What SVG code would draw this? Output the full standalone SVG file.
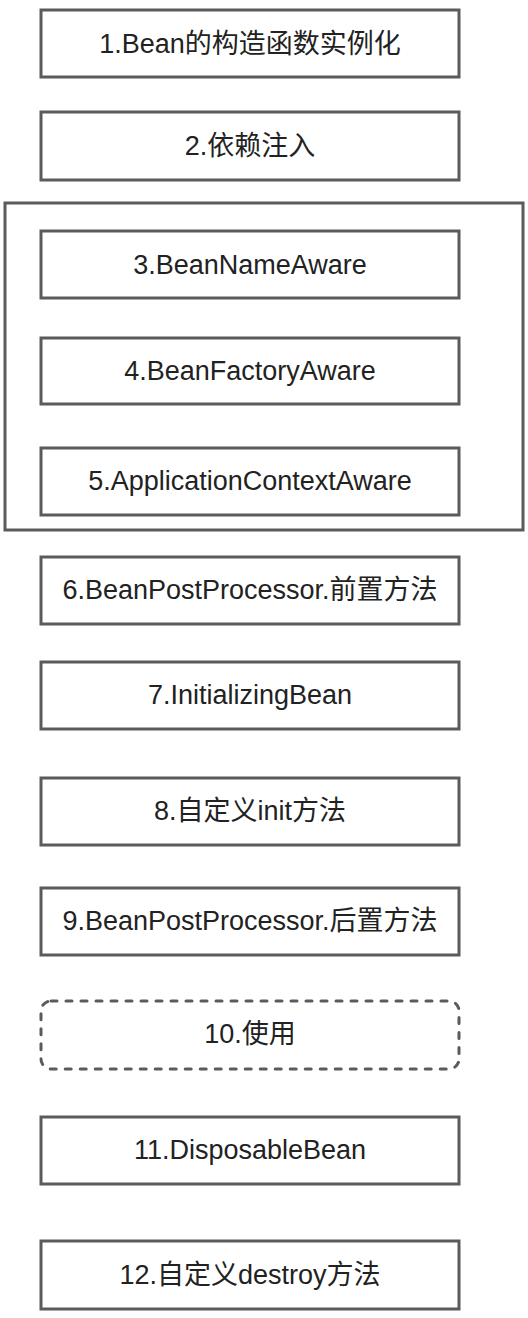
<svg xmlns="http://www.w3.org/2000/svg" width="528" height="1318" viewBox="0 0 528 1318">
<style>
.b{fill:#fff;stroke:#5b5b5b;stroke-width:3}
.d{fill:#fff;stroke:#5b5b5b;stroke-width:3;stroke-dasharray:6 9;stroke-linecap:round}
.t{font-family:"Liberation Sans","Noto Sans CJK SC",sans-serif;font-size:27px;fill:#222;text-anchor:middle}
</style>
<rect width="528" height="1318" fill="#fff"/>
<g id="group-aware"><rect x="5" y="203" width="518" height="327" fill="none" stroke="#5b5b5b" stroke-width="3"/></g>
<g id="n1"><rect class="b" x="41" y="10" width="418" height="67"/><text class="t" x="250" y="53">1.Bean的构造函数实例化</text></g>
<g id="n2"><rect class="b" x="41" y="112" width="418" height="68"/><text class="t" x="250" y="155">2.依赖注入</text></g>
<g id="n3"><rect class="b" x="41" y="231" width="418" height="67"/><text class="t" x="250" y="274">3.BeanNameAware</text></g>
<g id="n4"><rect class="b" x="41" y="338" width="418" height="66"/><text class="t" x="250" y="380">4.BeanFactoryAware</text></g>
<g id="n5"><rect class="b" x="41" y="448" width="418" height="67"/><text class="t" x="250" y="490">5.ApplicationContextAware</text></g>
<g id="n6"><rect class="b" x="41" y="557" width="418" height="67"/><text class="t" x="250" y="599">6.BeanPostProcessor.前置方法</text></g>
<g id="n7"><rect class="b" x="41" y="662" width="418" height="67"/><text class="t" x="250" y="704">7.InitializingBean</text></g>
<g id="n8"><rect class="b" x="41" y="778" width="418" height="67"/><text class="t" x="250" y="820">8.自定义init方法</text></g>
<g id="n9"><rect class="b" x="41" y="888" width="418" height="67"/><text class="t" x="250" y="930">9.BeanPostProcessor.后置方法</text></g>
<g id="n10"><rect class="d" x="41" y="1001" width="418" height="68" rx="10"/><text class="t" x="250" y="1043">10.使用</text></g>
<g id="n11"><rect class="b" x="41" y="1117" width="418" height="67"/><text class="t" x="250" y="1159">11.DisposableBean</text></g>
<g id="n12"><rect class="b" x="41" y="1241" width="418" height="68"/><text class="t" x="250" y="1284">12.自定义destroy方法</text></g>
<g id="connectors"></g>
</svg>
